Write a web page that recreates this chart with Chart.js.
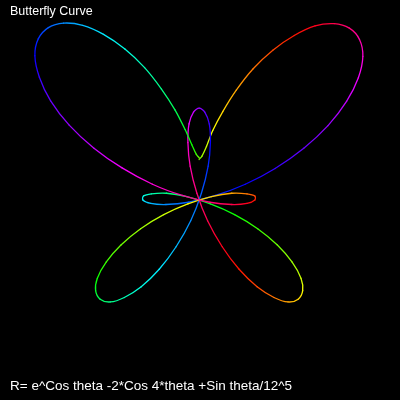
<!DOCTYPE html>
<html>
<head>
<meta charset="utf-8">
<script src="https://cdn.jsdelivr.net/npm/chart.js@4.4.1/dist/chart.umd.min.js"></script>
<style>
	html, body { margin: 0; padding: 0; background: #000; }
	#wrap { position: relative; width: 400px; height: 400px; background: #000; overflow: hidden; }
	#butterfly { position: absolute; left: 0; top: 0; }
	.lbl { position: absolute; left: 10px; color: #fff; font-family: "Liberation Sans", Arial, sans-serif; line-height: 1; white-space: nowrap; }
	#title { top: 5px; font-size: 12.5px; }
	#formula { top: 379px; font-size: 13.5px; }
</style>
</head>
<body>
<div id="wrap">
	<canvas id="butterfly" width="400" height="400"></canvas>
	<div class="lbl" id="title">Butterfly Curve</div>
	<div class="lbl" id="formula">R= e^Cos theta -2*Cos 4*theta +Sin theta/12^5</div>
</div>
<script>
// points, in order along the path (starts at the notch above the centre)
const xValues = [
	0, 0.05, 0.13, 0.24, 0.42, 0.66, 0.96, 1.31, 1.69, 2.06, 2.40, 2.67, 2.85, 2.91, 2.83, 2.62,
	2.29, 1.86, 1.35, 0.82, 0.29, -0.19, -0.59, -0.86, -1.00, -0.99, -0.85, -0.58, -0.22, 0.20, 0.63, 1.04,
	1.39, 1.65, 1.81, 1.84, 1.76, 1.58, 1.33, 1.03, 0.71, 0.41, 0.15, -0.04, -0.16, -0.20, -0.18, -0.10,
	0.00, 0.10, 0.18, 0.20, 0.16, 0.04, -0.15, -0.41, -0.71, -1.03, -1.33, -1.58, -1.76, -1.84, -1.81, -1.65,
	-1.39, -1.04, -0.63, -0.20, 0.22, 0.58, 0.85, 0.99, 0.99, 0.85, 0.58, 0.19, -0.30, -0.83, -1.37, -1.87,
	-2.31, -2.64, -2.84, -2.92, -2.86, -2.68, -2.41, -2.07, -1.70, -1.32, -0.97, -0.67, -0.43, -0.25, -0.13, -0.05,
	0
];
const yValues = [
	0.72, 0.78, 0.95, 1.23, 1.57, 1.95, 2.33, 2.66, 2.92, 3.09, 3.13, 3.05, 2.85, 2.55, 2.17, 1.75,
	1.32, 0.92, 0.56, 0.28, 0.08, -0.04, -0.08, -0.06, 0.00, 0.07, 0.11, 0.12, 0.06, -0.07, -0.26, -0.51,
	-0.80, -1.10, -1.39, -1.61, -1.76, -1.81, -1.73, -1.54, -1.23, -0.83, -0.37, 0.12, 0.60, 1.02, 1.35, 1.56,
	1.63, 1.56, 1.35, 1.02, 0.60, 0.12, -0.37, -0.83, -1.23, -1.54, -1.73, -1.81, -1.76, -1.61, -1.39, -1.10,
	-0.80, -0.51, -0.26, -0.07, 0.06, 0.12, 0.11, 0.07, 0.00, -0.06, -0.08, -0.04, 0.08, 0.28, 0.57, 0.92,
	1.33, 1.76, 2.18, 2.56, 2.86, 3.06, 3.14, 3.10, 2.94, 2.68, 2.35, 1.97, 1.60, 1.25, 0.98, 0.81,
	0.75
];

const startHue = 95;   // yellow-green at the notch
const hueTurns = 3;    // rainbow runs round three times along the curve

let points = xValues.map(function(x, i) {
	return { x: x, y: yValues[i] };
});

function hueAt(i) {
	let h = startHue - 360 * hueTurns * i / (points.length - 1);
	return ((h % 360) + 360) % 360;
}

let canvas = document.getElementById('butterfly');

new Chart(canvas, {
	type: 'scatter',
	data: {
		datasets: [{
			data: points,
			showLine: true,
			pointRadius: 0,
			borderWidth: 1.3,
			borderCapStyle: 'round',
			tension: 0.3,
			segment: {
				borderColor: function(ctx) {
					let g = ctx.chart.ctx.createLinearGradient(ctx.p0.x, ctx.p0.y, ctx.p1.x, ctx.p1.y);
					g.addColorStop(0, 'hsl(' + hueAt(ctx.p0DataIndex) + ',100%,50%)');
					g.addColorStop(1, 'hsl(' + hueAt(ctx.p1DataIndex) + ',100%,50%)');
					return g;
				}
			}
		}]
	},
	options: {
		responsive: false,
		animation: false,
		events: [],
		layout: { padding: 0 },
		scales: {
			x: { type: 'linear', min: -3.54, max: 3.57, display: false },
			y: { type: 'linear', min: -3.55, max: 3.55, display: false }
		},
		plugins: {
			legend: { display: false },
			tooltip: { enabled: false }
		}
	}
});
</script>
</body>
</html>
